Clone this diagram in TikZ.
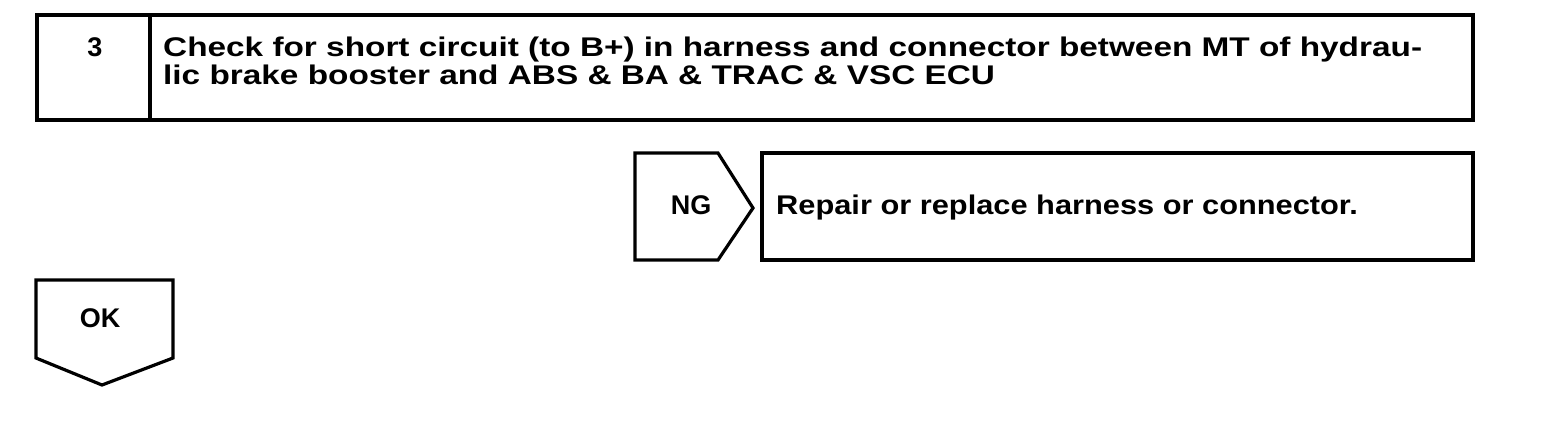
\documentclass[tikz,border=0pt]{standalone}
\usepackage{fontspec}
\setmainfont{Liberation Sans}
\newfontfamily\topface[FakeStretch=1.235]{Liberation Sans}
\newfontfamily\repface[FakeStretch=1.14]{Liberation Sans}
\usepackage{tikz}

\begin{document}
\begin{tikzpicture}[x=1pt,y=-1pt]

% Colori
\definecolor{lineBlack}{HTML}{000000}

% Stili
\tikzset{
  frame/.style={draw=lineBlack, line width=3.2pt, line join=miter},
  sign/.style={font=\fontsize{27}{27}\selectfont\bfseries, inner sep=0pt},
  stepText/.style={font=\topface\fontsize{27}{27}\selectfont\bfseries, inner sep=0pt, anchor=base west},
  repText/.style={font=\repface\fontsize{27}{27}\selectfont\bfseries, inner sep=0pt, anchor=base west}
}

\useasboundingbox (0,0) rectangle (1568,440);

% Passo 3
\draw[frame] (37,15) rectangle (1473,120);
\draw[frame] (150,15) -- (150,120);
\node[sign] (num) at (95,47) {3};
\node[stepText] (riga1) at (163,56) {Check for short circuit (to B+) in harness and connector between MT of hydrau-};
\node[stepText] (riga2) at (163,84) {lic brake booster and ABS \& BA \& TRAC \& VSC ECU};

% NG
\draw[frame] (635,153) -- (718,153) -- (753,208) -- (718,260) -- (635,260) -- cycle;
\node[sign] (ng) at (691,205) {NG};
\draw[frame] (762,153) rectangle (1473,260);
\node[repText] (rip) at (776,214) {Repair or replace harness or connector.};

% OK
\draw[frame] (36,280) -- (173,280) -- (173,358) -- (102,385) -- (36,358) -- cycle;
\node[sign] (ok) at (100,318) {OK};

\end{tikzpicture}
\end{document}
